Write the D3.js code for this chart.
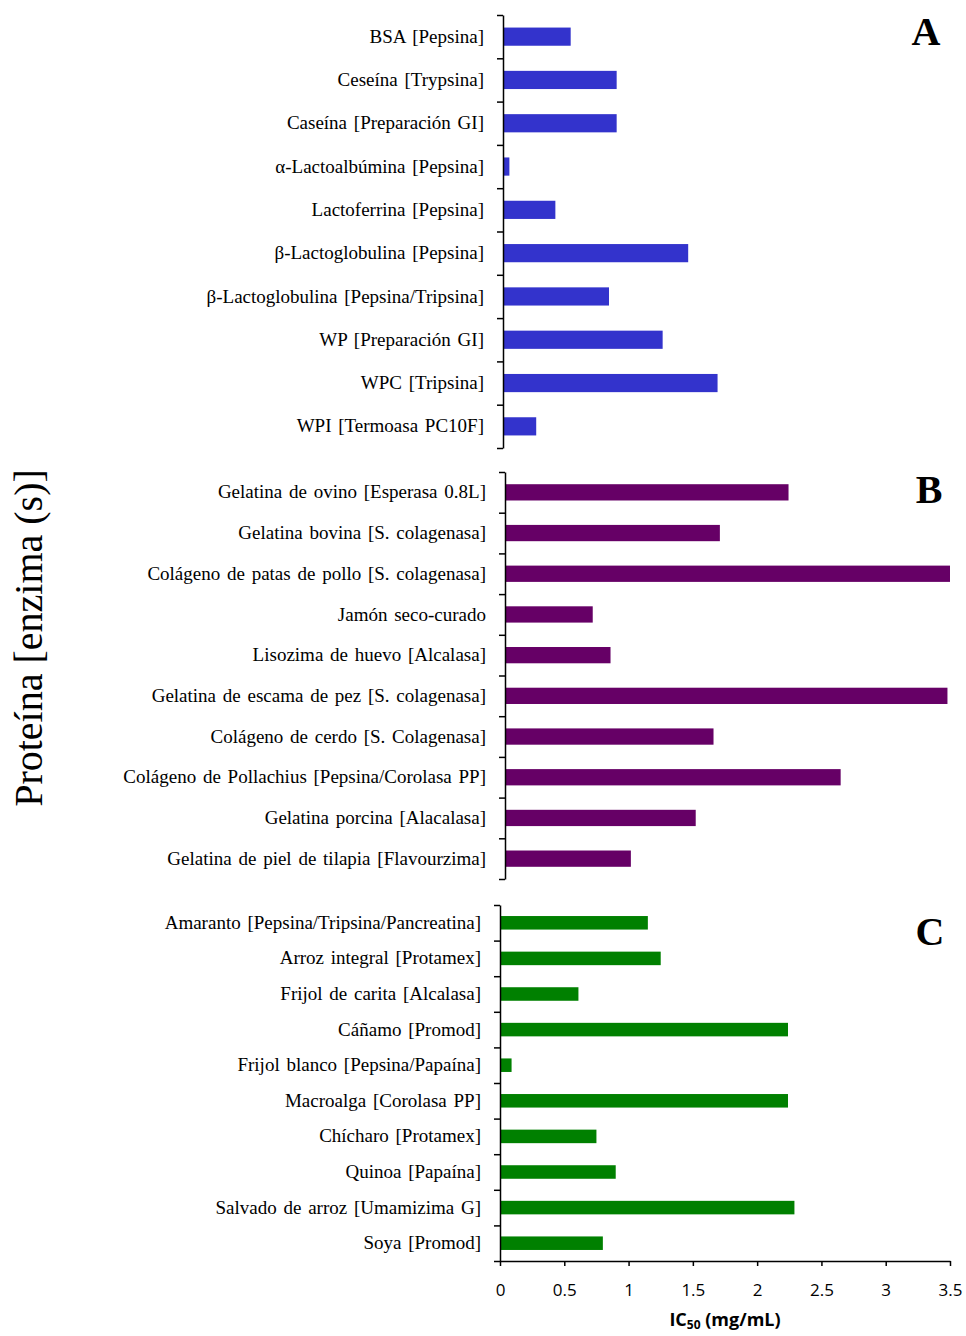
<!DOCTYPE html>
<html>
<head>
<meta charset="utf-8">
<script src="https://cdn.jsdelivr.net/npm/d3@7"></script>
<style>
  body { margin: 0; background: #fff; }
  svg { display: block; }
</style>
</head>
<body>
<svg id="drawing_region"></svg>
<script>
// Panel A: leche
const catsA = ["BSA [Pepsina]", "Ceseína [Trypsina]", "Caseína [Preparación GI]", "α-Lactoalbúmina [Pepsina]",
    "Lactoferrina [Pepsina]", "β-Lactoglobulina [Pepsina]", "β-Lactoglobulina [Pepsina/Tripsina]",
    "WP [Preparación GI]", "WPC [Tripsina]", "WPI [Termoasa PC10F]"];
const valsA = [0.53, 0.89, 0.89, 0.05, 0.41, 1.45, 0.83, 1.25, 1.68, 0.26];

// Panel B: colágeno / cárnicos
const catsB = ["Gelatina de ovino [Esperasa 0.8L]", "Gelatina bovina [S. colagenasa]",
    "Colágeno de patas de pollo [S. colagenasa]", "Jamón seco-curado", "Lisozima de huevo [Alcalasa]",
    "Gelatina de escama de pez [S. colagenasa]", "Colágeno de cerdo [S. Colagenasa]",
    "Colágeno de Pollachius [Pepsina/Corolasa PP]", "Gelatina porcina [Alacalasa]",
    "Gelatina de piel de tilapia [Flavourzima]"];
const valsB = [2.23, 1.69, 3.5, 0.69, 0.83, 3.48, 1.64, 2.64, 1.50, 0.99];

// Panel C: vegetales
const catsC = ["Amaranto [Pepsina/Tripsina/Pancreatina]", "Arroz integral [Protamex]", "Frijol de carita [Alcalasa]",
    "Cáñamo [Promod]", "Frijol blanco [Pepsina/Papaína]", "Macroalga [Corolasa PP]", "Chícharo [Protamex]",
    "Quinoa [Papaína]", "Salvado de arroz [Umamizima G]", "Soya [Promod]"];
const valsC = [1.15, 1.25, 0.61, 2.24, 0.09, 2.24, 0.75, 0.90, 2.29, 0.80];

const xTicks = [0, 0.5, 1, 1.5, 2, 2.5, 3, 3.5];

const width = 966, height = 1336;
const svg = d3.select('#drawing_region')
    .attr('width', width)
    .attr('height', height);

const serif = "'Liberation Serif', 'Times New Roman', serif";

function panel(cfg) {
    const xscale = d3.scaleLinear()
        .domain([0, 3.5])
        .range([cfg.left, 950]);

    const yscale = d3.scaleBand()
        .domain(cfg.cats)
        .range([cfg.top, cfg.bottom])
        .paddingInner(cfg.pad)
        .paddingOuter(cfg.pad / 2);

    const data = cfg.cats.map((c, i) => ({ cat: c, val: cfg.vals[i] }));

    svg.append('g').selectAll('rect')
        .data(data)
        .enter()
        .append('rect')
        .attr('x', xscale(0))
        .attr('y', d => yscale(d.cat))
        .attr('width', d => xscale(d.val) - xscale(0))
        .attr('height', yscale.bandwidth())
        .attr('fill', cfg.color);

    // category labels
    const lab = svg.append('g')
        .attr('transform', `translate(${cfg.left}, 0)`)
        .call(d3.axisLeft(yscale).tickSize(0).tickPadding(19));
    lab.select('.domain').remove();
    lab.selectAll('text')
        .attr('font-family', serif)
        .attr('font-size', 19)
        .attr('word-spacing', 2)
        .attr('fill', '#000');

    // boundary ticks
    const idx = d3.scaleLinear().domain([0, cfg.cats.length]).range([cfg.top, cfg.bottom]);
    const bnd = svg.append('g')
        .attr('transform', `translate(${cfg.left}, 0)`)
        .call(d3.axisLeft(idx).tickValues(d3.range(cfg.cats.length + 1)).tickSize(6).tickSizeOuter(0).tickFormat(''));
    bnd.selectAll('line, path').attr('stroke', '#000').attr('stroke-width', 1.5);

    svg.append('text')
        .attr('x', cfg.letterX)
        .attr('y', cfg.letterY)
        .attr('text-anchor', 'middle')
        .attr('font-family', serif)
        .attr('font-weight', 'bold')
        .attr('font-size', 40)
        .text(cfg.letter);

    return xscale;
}

panel({ cats: catsA, vals: valsA, color: '#3333CC', left: 503, top: 15, bottom: 448, pad: 0.58, letter: 'A', letterX: 926, letterY: 45 });
panel({ cats: catsB, vals: valsB, color: '#660066', left: 505, top: 472, bottom: 879, pad: 0.6, letter: 'B', letterX: 929, letterY: 503 });
const xC = panel({ cats: catsC, vals: valsC, color: '#008000', left: 500, top: 905, bottom: 1261, pad: 0.62, letter: 'C', letterX: 930, letterY: 945 });

// bottom axis
const xaxis_group = svg.append('g')
    .attr('transform', 'translate(0, 1261)')
    .call(d3.axisBottom(xC).tickValues(xTicks).tickSize(5).tickSizeOuter(0).tickPadding(18)
        .tickFormat(d3.format('')));
xaxis_group.selectAll('line, path').attr('stroke', '#000').attr('stroke-width', 1.5);
xaxis_group.selectAll('text')
    .attr('font-family', "'Open Sans', 'Liberation Sans', sans-serif")
    .attr('font-size', 17)
    .attr('fill', '#000');

// axis titles
const xt = svg.append('text')
    .attr('x', 725)
    .attr('y', 1326)
    .attr('text-anchor', 'middle')
    .attr('font-family', "'Open Sans', 'Liberation Sans', sans-serif")
    .attr('font-weight', 'bold')
    .attr('font-size', 18);
xt.append('tspan').text('IC');
xt.append('tspan').attr('font-size', 12).attr('dy', 3).text('50');
xt.append('tspan').attr('dy', -3).text(' (mg/mL)');

svg.append('text')
    .attr('transform', 'translate(42, 638) rotate(-90)')
    .attr('text-anchor', 'middle')
    .attr('font-family', serif)
    .attr('font-size', 40)
    .text('Proteína [enzima (s)]');
</script>
</body>
</html>
